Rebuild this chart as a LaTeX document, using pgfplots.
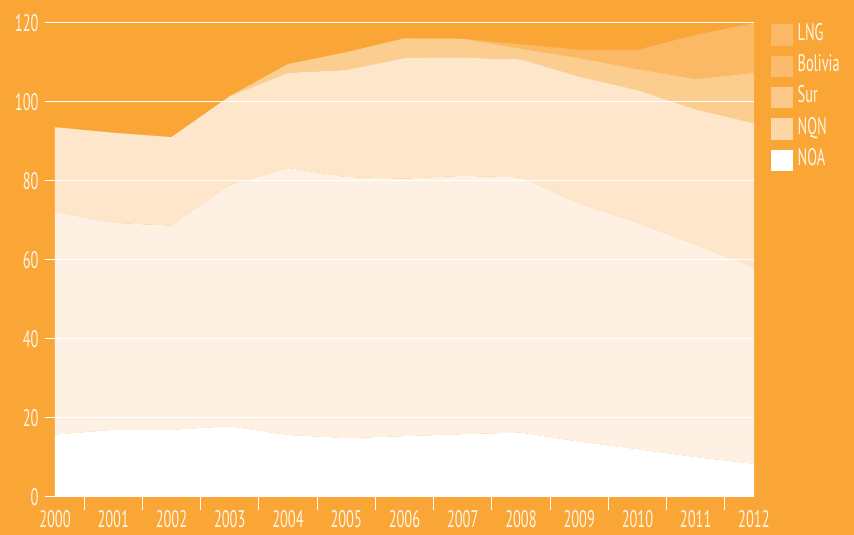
\documentclass[border=0pt]{standalone}
\usepackage{fontspec}
\setmainfont{PT Sans}[FakeStretch=0.6]
\usepackage{pgfplots}
\pgfplotsset{compat=1.18}
\definecolor{bg}{HTML}{F9A637}
\definecolor{txt}{HTML}{FFF4E6}
\definecolor{cNQN}{HTML}{FEF1E4}
\definecolor{cSur}{HTML}{FDE6CA}
\definecolor{cBol}{HTML}{FBCE90}
\definecolor{cLNG}{HTML}{FBB966}
\definecolor{lLNG}{HTML}{FBB866}
\definecolor{lBol}{HTML}{FBBC6D}
\definecolor{lSur}{HTML}{FCC887}
\definecolor{lNQN}{HTML}{FCD6A5}
\begin{document}
\begin{tikzpicture}
\path[use as bounding box] (-55pt,-38pt) rectangle (799pt,497pt);
\fill[bg] (-55pt,-38pt) rectangle (799pt,497pt);
\begin{axis}[
  at={(0pt,0pt)}, anchor=south west,
  scale only axis, width=699pt, height=474pt,
  xmin=2000, xmax=2012, ymin=0, ymax=120,
  stack plots=y,
  axis on top,
  axis line style={draw=none},
  xtick pos=bottom, ytick pos=left,
  xtick={2000,...,2012},
  xticklabels={2000,2001,2002,2003,2004,2005,2006,2007,2008,2009,2010,2011,2012},
  minor xtick={2000.5,2001.5,...,2011.5},
  ytick={0,20,...,120},
  tick align=outside,
  major tick length=10pt,
  minor tick length=13pt,
  major x tick style={draw=none},
  minor x tick style={white, line width=1pt},
  major y tick style={white, line width=1pt},
  ymajorgrids,
  grid style={white, line width=1pt},
  tick label style={font=\fontsize{24}{26}\selectfont, text=txt},
  /pgf/number format/assume math mode=true,
  xticklabel style={yshift=0pt},
  yticklabel style={xshift=-3pt},
  legend style={at={(1,1)}, anchor=north west, xshift=17pt, yshift=-1pt,
    draw=none, fill=none, inner sep=0pt, row sep=10.5pt,
    font=\fontsize{24}{26}\selectfont, text=txt,
    nodes={inner sep=0pt, text height=15pt, text depth=4pt, anchor=west}},
  legend cell align=left,
  legend image code/.code={\fill[#1] (0pt,-10.25pt) rectangle (20.5pt,10.25pt); \path (26pt,0pt);},
]
% NOA
\addplot[fill=white, draw=none, forget plot] coordinates {
(2000,15.8) (2001,17.0) (2002,17.0) (2003,17.9) (2004,15.7) (2005,14.9) (2006,15.4)
(2007,15.9) (2008,16.3) (2009,14.0) (2010,12.1) (2011,10.1) (2012,8.4)} \closedcycle;
% NQN
\addplot[fill=cNQN, draw=none, forget plot] coordinates {
(2000,56.4) (2001,52.4) (2002,51.7) (2003,61.1) (2004,67.6) (2005,66.1) (2006,65.2)
(2007,65.4) (2008,64.6) (2009,60.2) (2010,57.3) (2011,53.7) (2012,49.7)} \closedcycle;
% Sur
\addplot[fill=cSur, draw=none, forget plot] coordinates {
(2000,21.4) (2001,22.8) (2002,22.4) (2003,22.4) (2004,24.1) (2005,27.1) (2006,30.5)
(2007,29.9) (2008,29.9) (2009,32.2) (2010,33.6) (2011,34.3) (2012,36.5)} \closedcycle;
% Bolivia
\addplot[fill=cBol, draw=none, forget plot] coordinates {
(2000,0) (2001,0) (2002,0) (2003,0.1) (2004,2.2) (2005,4.5) (2006,5.0)
(2007,4.8) (2008,2.7) (2009,4.7) (2010,5.3) (2011,7.7) (2012,12.8)} \closedcycle;
% LNG
\addplot[fill=cLNG, draw=none, forget plot] coordinates {
(2000,0) (2001,0) (2002,0) (2003,0) (2004,0) (2005,0) (2006,0)
(2007,0) (2008,1.1) (2009,2.1) (2010,4.9) (2011,11.2) (2012,12.6)} \closedcycle;
\addlegendimage{lLNG}\addlegendentry{LNG}
\addlegendimage{lBol}\addlegendentry{Bolivia}
\addlegendimage{lSur}\addlegendentry{Sur}
\addlegendimage{lNQN}\addlegendentry{NQN}
\addlegendimage{white}\addlegendentry{NOA}
\end{axis}
\end{tikzpicture}
\end{document}
